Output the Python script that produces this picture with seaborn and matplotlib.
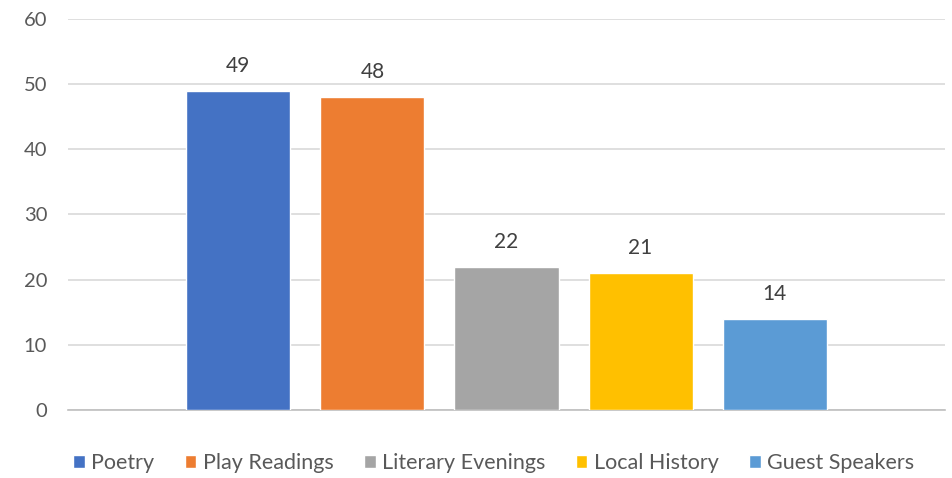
import matplotlib
matplotlib.use("Agg")
import matplotlib.pyplot as plt
import seaborn as sns
import pandas as pd
from matplotlib.patches import Patch

# chart data
categories = ["Poetry", "Play Readings", "Literary Evenings", "Local History", "Guest Speakers"]
values = [49, 48, 22, 21, 14]
colors = ["#4472C4", "#ED7D31", "#A5A5A5", "#FFC000", "#5B9BD5"]
yticks = [0, 10, 20, 30, 40, 50, 60]

sns.set_style("white")
plt.rcParams["font.family"] = ["Lato", "DejaVu Sans"]

df = pd.DataFrame({"group": categories, "count": values})

fig = plt.figure(figsize=(9.53, 4.78), dpi=100)
ax = fig.add_axes([0.0714, 0.1423, 0.9202, 0.818])

sns.barplot(data=df, x="group", y="count", hue="group", palette=colors,
            width=0.776, saturation=1, legend=False, ax=ax, zorder=3)

# value labels above the bars
for i, v in enumerate(values):
    ax.text(i, v + 2.3, str(v), ha="center", va="bottom", fontsize=15, color="#404040")

ax.set_ylim(0, 60)
ax.set_xlim(-1.27, 5.27)
ax.set_yticks(yticks)
ax.set_yticklabels([str(t) for t in yticks], fontsize=14.5, color="#595959")
ax.set_xticks([])
ax.set_xlabel("")
ax.set_ylabel("")
ax.tick_params(axis="y", length=0, pad=15)
ax.yaxis.grid(True, color="#D9D9D9", linewidth=1.2, zorder=0)
for side in ["top", "right", "left"]:
    ax.spines[side].set_visible(False)
ax.spines["bottom"].set_color("#BFBFBF")
ax.spines["bottom"].set_linewidth(1.2)

handles = [Patch(facecolor=c, label=n) for c, n in zip(colors, categories)]
fig.legend(handles=handles, loc="center", bbox_to_anchor=(0.518, 0.031), ncol=5,
           frameon=False, fontsize=15.5, labelcolor="#595959",
           handlelength=0.55, handleheight=0.55, handletextpad=0.3, columnspacing=1.4)

fig.savefig("out.png", dpi=100)
